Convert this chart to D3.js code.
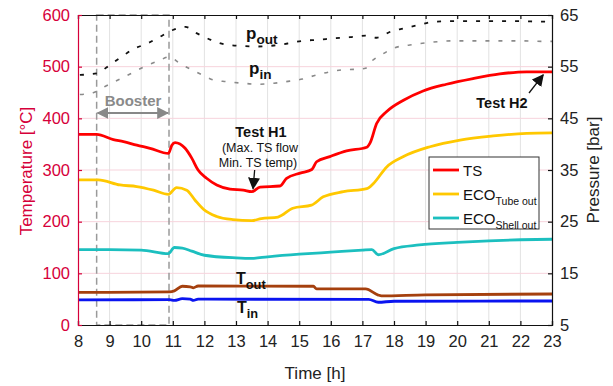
<!DOCTYPE html>
<html>
<head>
<meta charset="utf-8">
<script src="https://cdn.jsdelivr.net/npm/d3@7"></script>
<style>
  body { margin: 0; background: #fff; }
  svg { font-family: "Liberation Sans", Arial, sans-serif; }
</style>
</head>
<body>
<svg width="613" height="386"></svg>
<script>
// time [h] and values
const tsTime = [8, 8.59, 9.12, 9.44, 9.86, 10.28, 10.86, 10.97, 11.07, 11.39, 11.6, 11.8, 12.07, 12.39, 12.81, 13.23, 13.5, 13.76, 14.39, 14.6, 15.03, 15.4, 15.55, 15.97, 16.5, 17.14, 17.24, 17.45, 17.77, 18.3, 18.92, 19.66, 20.5, 21.35, 22.2, 23];
const tsVal = [369, 369, 359, 355, 348, 342, 332, 348, 353, 342, 323, 300, 284, 271, 263, 261, 258, 267, 269, 284, 294, 301, 316, 326, 337, 344, 352, 390, 413, 435, 453, 466, 477, 486, 490, 490];

const tubeTime = [8, 8.64, 9.33, 9.86, 10.39, 10.86, 11.12, 11.44, 11.7, 11.97, 12.39, 12.9, 13.5, 13.8, 14.33, 14.8, 15.39, 15.76, 16.4, 17.14, 17.35, 17.77, 18.3, 19.14, 20.09, 21.14, 22.2, 23];
const tubeVal = [281, 281, 271, 268, 261, 253, 266, 261, 242, 224, 210, 204, 202, 206, 209, 226, 232, 248, 258, 264, 274, 306, 326, 345, 358, 366, 371, 372];

const shellTime = [8, 9, 10, 10.86, 11.05, 11.3, 11.6, 12, 13, 13.5, 14, 15, 16, 17, 17.3, 17.5, 18, 18.8, 20, 21, 22, 23];
const shellVal = [146, 146, 145, 138, 150, 149, 143, 135, 130, 129, 132, 137, 141, 145, 146, 136, 148, 155, 160, 163, 165, 166];

const toutTime = [8, 10.9, 11.05, 11.3, 11.55, 11.65, 11.8, 15.45, 15.55, 17.1, 17.5, 17.6, 19, 23];
const toutVal = [63, 64, 66, 75, 74, 72, 75.5, 75, 70, 70, 58, 56.5, 58.5, 60];

const tinTime = [8, 10.9, 11.05, 11.3, 11.55, 11.65, 11.8, 17.2, 17.5, 18, 23];
const tinVal = [48.5, 49, 47.5, 51, 50, 47.5, 50, 49.5, 44, 46, 46.5];

const poutTime = [8.06, 8.59, 9.0, 9.38, 9.75, 10.2, 10.6, 11.0, 11.4, 11.75, 12.2, 12.65, 13.2, 13.65, 14.2, 14.65, 15.1, 15.6, 16.1, 16.6, 17.1, 17.45, 17.9, 18.3, 18.8, 19.25, 19.9, 20.9, 22.0, 22.7, 23];
const poutVal = [53.4, 53.7, 55.3, 56.9, 58.4, 59.5, 60.8, 62.1, 62.7, 61.5, 60.2, 59.3, 59.0, 58.9, 59.1, 59.5, 60.0, 60.2, 60.5, 60.7, 61.0, 60.6, 61.8, 62.4, 63.1, 63.7, 63.8, 63.8, 63.8, 63.7, 63.7];

const pinTime = [8.06, 8.5, 8.9, 9.33, 9.75, 10.1, 10.54, 10.9, 11.2, 11.6, 11.97, 12.3, 12.7, 13.2, 13.7, 14.2, 14.7, 15.1, 15.55, 15.97, 16.4, 16.8, 17.1, 17.3, 17.6, 18.0, 18.5, 19.0, 19.9, 20.9, 22.0, 22.7, 23];
const pinVal = [49.6, 50.0, 51.3, 52.6, 53.9, 55.0, 56.1, 56.9, 55.7, 54.4, 53.3, 52.4, 52.1, 51.8, 51.6, 51.8, 52.2, 52.6, 53.4, 54.0, 54.4, 54.5, 54.7, 56.1, 57.3, 58.6, 59.2, 59.6, 60.0, 60.0, 60.0, 59.9, 59.9];

const hourTicks = d3.range(8, 24);
const tempTicks = d3.range(0, 601, 100);
const presTicks = [5, 15, 25, 35, 45, 55, 65];
const boosterSpan = [8.59, 10.88];

const legendItems = [
  { name: 'TS', sub: '', color: '#ff0000' },
  { name: 'ECO', sub: 'Tube out', color: '#ffc800' },
  { name: 'ECO', sub: 'Shell out', color: '#1cbfbf' }
];

const crimson = '#d6003a';

function render() {
  const svg = d3.select('svg');

  const x = d3.scaleLinear().domain([8, 23]).range([78, 552]);
  const yT = d3.scaleLinear().domain([0, 600]).range([325, 15]);
  const yP = d3.scaleLinear().domain([5, 65]).range([325, 15]);

  // grid
  svg.append('g').selectAll('line').data(hourTicks.slice(1, -1)).join('line')
    .attr('x1', d => x(d)).attr('x2', d => x(d))
    .attr('y1', yT(0)).attr('y2', yT(600))
    .attr('stroke', '#e2e2e2').attr('stroke-width', 1);
  svg.append('g').selectAll('line').data(tempTicks.slice(1, -1)).join('line')
    .attr('x1', x(8)).attr('x2', x(23))
    .attr('y1', d => yT(d)).attr('y2', d => yT(d))
    .attr('stroke', '#f7d3dc').attr('stroke-width', 1);

  // booster box
  svg.append('rect')
    .attr('x', x(boosterSpan[0])).attr('y', yT(600))
    .attr('width', x(boosterSpan[1]) - x(boosterSpan[0]))
    .attr('height', yT(0) - yT(600))
    .attr('fill', 'none').attr('stroke', '#9a9a9a')
    .attr('stroke-width', 1.5).attr('stroke-dasharray', '7,4');

  const line = (xs, vs, sc) => d3.line()
    .x(i => x(xs[i])).y(i => sc(vs[i]))
    .curve(d3.curveMonotoneX)(d3.range(xs.length));

  // pressure (markers drawn as short dashes)
  svg.append('path').attr('d', line(pinTime, pinVal, yP))
    .attr('fill', 'none').attr('stroke', '#8a8a8a')
    .attr('stroke-width', 1.6).attr('stroke-dasharray', '4,9');
  svg.append('path').attr('d', line(poutTime, poutVal, yP))
    .attr('fill', 'none').attr('stroke', '#111')
    .attr('stroke-width', 1.8).attr('stroke-dasharray', '4,9');

  const series = [
    [shellTime, shellVal, '#1cbfbf'],
    [tubeTime, tubeVal, '#ffc800'],
    [tsTime, tsVal, '#ff0000'],
    [toutTime, toutVal, '#a5400e'],
    [tinTime, tinVal, '#0a14f0']
  ];
  series.forEach(([t, v, c]) => {
    svg.append('path').attr('d', line(t, v, yT))
      .attr('fill', 'none').attr('stroke', c).attr('stroke-width', 2.8)
      .attr('stroke-linejoin', 'round');
  });

  // axes
  const axB = svg.append('g').attr('transform', `translate(0,${yT(0)})`)
    .call(d3.axisBottom(x).tickValues(hourTicks).tickSize(-4).tickPadding(10).tickFormat(d3.format('d')));
  const axT = svg.append('g').attr('transform', `translate(0,${yT(600)})`)
    .call(d3.axisTop(x).tickValues(hourTicks).tickSize(-4).tickFormat(''));
  const axL = svg.append('g').attr('transform', `translate(${x(8)},0)`)
    .call(d3.axisLeft(yT).tickValues(tempTicks).tickSize(-4).tickPadding(8));
  const axR = svg.append('g').attr('transform', `translate(${x(23)},0)`)
    .call(d3.axisRight(yP).tickValues(presTicks).tickSize(-4).tickPadding(8));
  [axB, axT, axR].forEach(a => {
    a.selectAll('path,line').attr('stroke', '#111').attr('stroke-width', 1.2);
    a.selectAll('text').attr('fill', '#222').style('font-size', '16.5px');
  });
  axL.selectAll('path,line').attr('stroke', crimson).attr('stroke-width', 1.2);
  axL.selectAll('text').attr('fill', crimson).style('font-size', '16.5px');
  [axB, axT, axL, axR].forEach(a => a.select('.domain').attr('d', function () { return d3.select(this).attr('d').replace(/M[^V]*V?/, m => m); }));

  // axis titles
  svg.append('text').attr('x', 315).attr('y', 379).attr('text-anchor', 'middle')
    .attr('fill', '#222').style('font-size', '17px').text('Time [h]');
  svg.append('text').attr('transform', 'translate(32,171) rotate(-90)').attr('text-anchor', 'middle')
    .attr('fill', crimson).style('font-size', '17px').text('Temperature [°C]');
  svg.append('text').attr('transform', 'translate(599,170) rotate(-90)').attr('text-anchor', 'middle')
    .attr('fill', '#222').style('font-size', '17px').text('Pressure [bar]');

  // arrow heads
  const defs = svg.append('defs');
  [['arrBlack', '#111'], ['arrGrey', '#888']].forEach(([id, c]) => {
    defs.append('marker').attr('id', id).attr('viewBox', '0 0 10 10')
      .attr('refX', 9).attr('refY', 5).attr('markerWidth', 7).attr('markerHeight', 7)
      .attr('orient', 'auto-start-reverse').attr('markerUnits', 'userSpaceOnUse')
      .append('path').attr('d', 'M0,0L10,5L0,10Z').attr('fill', c);
  });
  defs.select('#arrBlack').attr('markerWidth', 12).attr('markerHeight', 12);
  defs.select('#arrGrey').attr('markerWidth', 12).attr('markerHeight', 12);

  // booster
  svg.append('line').attr('x1', x(boosterSpan[0]) + 1).attr('x2', x(boosterSpan[1]) - 1)
    .attr('y1', 113).attr('y2', 113).attr('stroke', '#888').attr('stroke-width', 1.8)
    .attr('marker-start', 'url(#arrGrey)').attr('marker-end', 'url(#arrGrey)');
  svg.append('text').attr('x', 133).attr('y', 106).attr('text-anchor', 'middle')
    .attr('fill', '#8a8a8a').style('font-size', '15px').style('font-weight', 'bold').text('Booster');

  // series labels
  const subLabel = (px, py, main, sub, size) => {
    const t = svg.append('text').attr('x', px).attr('y', py).attr('fill', '#111')
      .style('font-weight', 'bold').style('font-size', size + 'px');
    t.append('tspan').text(main);
    t.append('tspan').attr('dy', 5).style('font-size', (size * 0.8) + 'px').text(sub);
  };
  subLabel(246, 39, 'p', 'out', 17);
  subLabel(249, 74, 'p', 'in', 17);
  subLabel(236, 284, 'T', 'out', 16);
  subLabel(237, 313, 'T', 'in', 16);

  // test annotations
  svg.append('text').attr('x', 261).attr('y', 137).attr('text-anchor', 'middle')
    .attr('fill', '#111').style('font-size', '14.5px').style('font-weight', 'bold').text('Test H1');
  svg.append('text').attr('x', 260).attr('y', 152).attr('text-anchor', 'middle')
    .attr('fill', '#111').style('font-size', '12.5px').text('(Max. TS flow');
  svg.append('text').attr('x', 258).attr('y', 167).attr('text-anchor', 'middle')
    .attr('fill', '#111').style('font-size', '12.5px').text('Min. TS temp)');
  svg.append('line').attr('x1', x(13.59)).attr('y1', 170).attr('x2', x(13.54)).attr('y2', yT(262) - 1)
    .attr('stroke', '#111').attr('stroke-width', 1.3).attr('marker-end', 'url(#arrBlack)');

  svg.append('text').attr('x', 502).attr('y', 108).attr('text-anchor', 'middle')
    .attr('fill', '#111').style('font-size', '14.5px').style('font-weight', 'bold').text('Test H2');
  svg.append('line').attr('x1', 529).attr('y1', 93).attr('x2', x(22.72)).attr('y2', yT(490) + 3)
    .attr('stroke', '#111').attr('stroke-width', 1.3).attr('marker-end', 'url(#arrBlack)');

  // legend
  const lg = svg.append('g').attr('transform', 'translate(429,157)');
  lg.append('rect').attr('width', 110).attr('height', 72)
    .attr('fill', '#fff').attr('stroke', '#333').attr('stroke-width', 1);
  const items = lg.selectAll('g.item').data(legendItems).join('g')
    .attr('class', 'item').attr('transform', (d, i) => `translate(0,${13 + i * 24})`);
  items.append('line').attr('x1', 4).attr('x2', 30).attr('y1', 0).attr('y2', 0)
    .attr('stroke', d => d.color).attr('stroke-width', 2.8);
  const lt = items.append('text').attr('x', 34).attr('y', 5.5).attr('fill', '#111').style('font-size', '15px');
  lt.append('tspan').text(d => d.name);
  lt.append('tspan').attr('dy', 5).style('font-size', '10.5px').text(d => d.sub);
}

render();
</script>
</body>
</html>
